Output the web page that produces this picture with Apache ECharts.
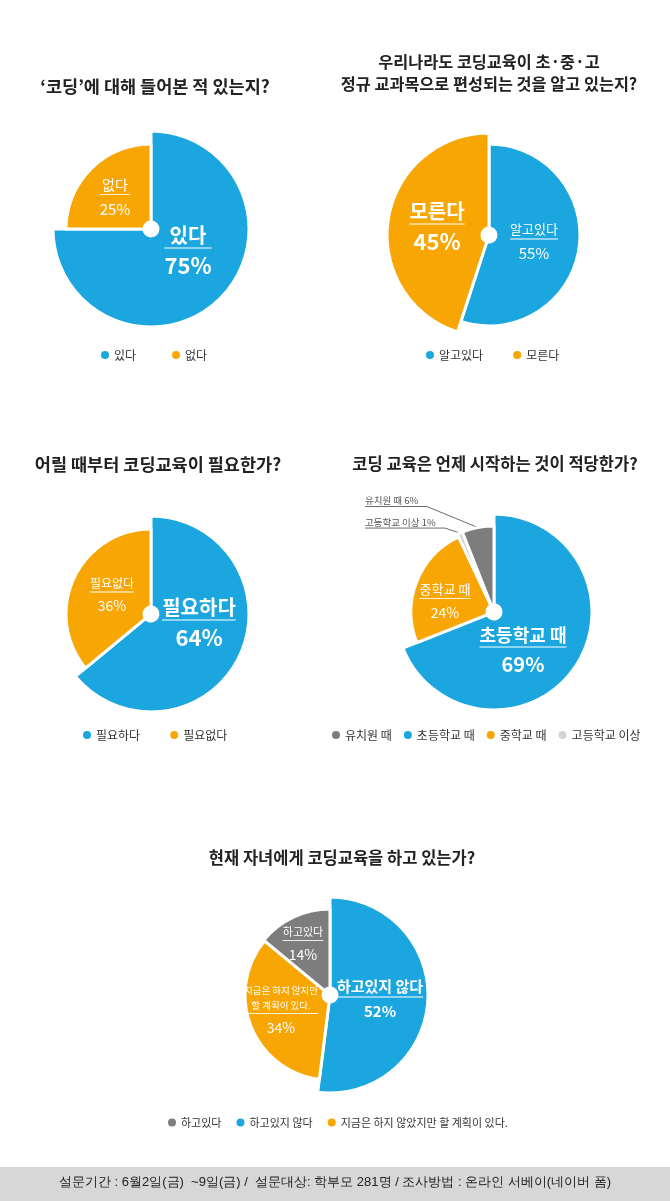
<!DOCTYPE html>
<html>
<head>
<meta charset="utf-8">
<script src="https://cdn.jsdelivr.net/npm/echarts@6/dist/echarts.min.js"></script>
<style>
  html, body { margin: 0; padding: 0; background: #fff; }
  #main { width: 670px; height: 1201px; }
</style>
</head>
<body>
<div id="main"></div>
<script>
// 설문 데이터
const q1Names = ['있다', '없다'];
const q1Values = [75, 25];

const q2Names = ['알고있다', '모른다'];
const q2Values = [55, 45];

const q3Names = ['필요하다', '필요없다'];
const q3Values = [64, 36];

const q4Names = ['초등학교 때', '중학교 때', '고등학교 이상', '유치원 때'];
const q4Values = [69, 24, 1, 6];
const q4Legend = ['유치원 때', '초등학교 때', '중학교 때', '고등학교 이상'];

const q5Names = ['하고있지 않다', '지금은 하지 않았지만 할 계획이 있다.', '하고있다'];
const q5Values = [52, 34, 14];
const q5SliceLabels = ['하고있지 않다', '지금은 하지 않지만\n할 계획이 있다.', '하고있다'];
const q5Legend = ['하고있다', '하고있지 않다', '지금은 하지 않았지만 할 계획이 있다.'];

const titles = [
  '‘코딩’에 대해 들어본 적 있는지?',
  '우리나라도 코딩교육이 초·중·고\n정규 교과목으로 편성되는 것을 알고 있는지?',
  '어릴 때부터 코딩교육이 필요한가?',
  '코딩 교육은 언제 시작하는 것이 적당한가?',
  '현재 자녀에게 코딩교육을 하고 있는가?'
];

const footerText = '설문기간 : 6월2일(금)  ~9일(금) /  설문대상: 학부모 281명 / 조사방법 : 온라인 서베이(네이버 폼)';

const BLUE = '#1ba6df';
const ORANGE = '#f7a604';
const DGRAY = '#7d7d7d';
const LGRAY = '#d3d3d3';
const FONT = '"Noto Sans CJK KR", "Noto Sans", sans-serif';

const chart = echarts.init(document.getElementById('main'));

// 조각마다 반지름이 달라서 조각 하나당 pie 시리즈 하나
function sliceSeries(names, values, labels, cfg) {
  return names.map(function (_, k) {
    const st = cfg.text[k];
    const outside = st.outside;
    const s = {
      type: 'pie',
      center: cfg.center,
      radius: [7, cfg.radius[k]],
      startAngle: 90,
      clockwise: true,
      silent: true,
      animation: false,
      avoidLabelOverlap: false,
      emphasis: { disabled: true },
      data: names.map(function (n, i) {
        const on = i === k;
        return {
          name: n,
          value: values[i],
          itemStyle: on
            ? { color: cfg.colors[i], borderColor: '#fff', borderWidth: 3 }
            : { color: 'rgba(0,0,0,0)', borderWidth: 0 },
          label: { show: on },
          labelLine: { show: on && !!outside }
        };
      })
    };
    if (outside) {
      s.label = {
        position: 'outside',
        fontSize: 9.5,
        color: '#555',
        fontFamily: FONT,
        formatter: function (p) { return p.name + ' ' + p.value + '%'; }
      };
      s.labelLine = { length: 10, length2: 10, lineStyle: { color: '#444', width: 0.8 } };
      s.labelLayout = function (p) {
        if (!p.labelLinePoints) return {};
        const a = p.labelLinePoints[0];
        const cx = a[0] + outside[0];
        const cy = a[1] + outside[1];
        const left = cfg.center[0] - 129;
        return {
          x: left,
          y: cy - 1,
          align: 'left',
          verticalAlign: 'bottom',
          labelLinePoints: [a, [cx, cy], [left, cy]]
        };
      };
    } else {
      // 가운데 기준으로 놓고 dx/dy 로 옮김
      s.label = {
        position: 'center',
        fontFamily: FONT,
        formatter: function (p) {
          const txt = labels[p.dataIndex].split('\n').map(function (t) {
            return '{n|' + t + '}';
          }).join('\n');
          return txt + '\n{hr|}\n{p|' + p.value + '%}';
        },
        rich: {
          n: { fontSize: st.n, color: '#fff', fontWeight: st.w || 'normal', lineHeight: st.n + 6, fontFamily: FONT },
          hr: { borderColor: 'rgba(255,255,255,0.75)', width: '100%', borderWidth: 0.8, height: 0, align: 'left' },
          p: { fontSize: st.p, color: '#fff', fontWeight: st.w || 'normal', lineHeight: st.p + 14, fontFamily: FONT }
        }
      };
      s.labelLayout = { dx: cfg.offset[k][0], dy: cfg.offset[k][1] };
    }
    return s;
  });
}

function legendFor(order, names, colors, left, top, gap, size) {
  return {
    left: left,
    top: top,
    padding: 0,
    icon: 'circle',
    itemWidth: 8,
    itemHeight: 8,
    itemGap: gap,
    selectedMode: false,
    textStyle: { fontSize: size || 12, color: '#333', fontFamily: FONT },
    data: order.map(function (n) {
      return { name: n, itemStyle: { color: colors[names.indexOf(n)], borderWidth: 0 } };
    })
  };
}

function titleStyle(size) {
  return { fontSize: size, fontWeight: 'bold', color: '#222', fontFamily: FONT, lineHeight: 22 };
}

const q1Colors = [BLUE, ORANGE];
const q2Colors = [BLUE, ORANGE];
const q3Colors = [BLUE, ORANGE];
const q4Colors = [BLUE, ORANGE, LGRAY, DGRAY];
const q5Colors = [BLUE, ORANGE, DGRAY];

const series = [].concat(
  sliceSeries(q1Names, q1Values, q1Names, {
    center: [151, 229], radius: [98, 85], colors: q1Colors,
    text: [{ n: 20, p: 22, w: 'bold' }, { n: 14, p: 15 }],
    offset: [[37, 24], [-36, -30]]
  }),
  sliceSeries(q2Names, q2Values, q2Names, {
    center: [489, 235], radius: [91, 102], colors: q2Colors,
    text: [{ n: 13, p: 15 }, { n: 20, p: 22, w: 'bold' }],
    offset: [[45, 9], [-52, -6]]
  }),
  sliceSeries(q3Names, q3Values, q3Names, {
    center: [151, 614], radius: [98, 85], colors: q3Colors,
    text: [{ n: 20, p: 22, w: 'bold' }, { n: 12, p: 14 }],
    offset: [[48, 11], [-39, -17]]
  }),
  sliceSeries(q4Names, q4Values, q4Names, {
    center: [494, 612], radius: [98, 83, 86, 86], colors: q4Colors,
    text: [{ n: 18, p: 20, w: 'bold' }, { n: 13, p: 14 }, { outside: [-15, -5] }, { outside: [-51, -21] }],
    offset: [[29, 40], [-49, -9], [0, 0], [0, 0]]
  }),
  sliceSeries(q5Names, q5Values, q5SliceLabels, {
    center: [330, 995], radius: [98, 85, 86], colors: q5Colors,
    text: [{ n: 15, p: 15, w: 'bold' }, { n: 9.5, p: 14 }, { n: 11, p: 14 }],
    offset: [[50, 6], [-49, 17], [-27, -49]]
  })
);

const option = {
  backgroundColor: '#fff',
  animation: false,
  textStyle: { fontFamily: FONT },
  title: [
    { text: titles[0], left: 150, top: 70, textAlign: 'center', textStyle: titleStyle(17.5) },
    { text: titles[1], left: 484, top: 46, textAlign: 'center', textStyle: titleStyle(16.3) },
    { text: titles[2], left: 153, top: 448, textAlign: 'center', textStyle: titleStyle(17.5) },
    { text: titles[3], left: 490, top: 448, textAlign: 'center', textStyle: titleStyle(16.5) },
    { text: titles[4], left: 337, top: 842, textAlign: 'center', textStyle: titleStyle(16.5) }
  ],
  legend: [
    legendFor(q1Names, q1Names, q1Colors, 101, 349, 36),
    legendFor(q2Names, q2Names, q2Colors, 426, 349, 30),
    legendFor(q3Names, q3Names, q3Colors, 83, 729, 30),
    legendFor(q4Legend, q4Names, q4Colors, 332, 729, 12),
    legendFor(q5Legend, q5Names, q5Colors, 168, 1117, 15, 11)
  ],
  graphic: [
    { type: 'rect', left: 0, top: 1167, shape: { width: 670, height: 34 }, style: { fill: '#d7d7d7' }, silent: true },
    {
      type: 'text', left: 'center', top: 1176, silent: true,
      style: { text: footerText, fontSize: 13, fill: '#222', font: '13px ' + FONT }
    }
  ],
  series: series
};

chart.setOption(option);
window.addEventListener('resize', function () { chart.resize(); });
</script>
</body>
</html>
